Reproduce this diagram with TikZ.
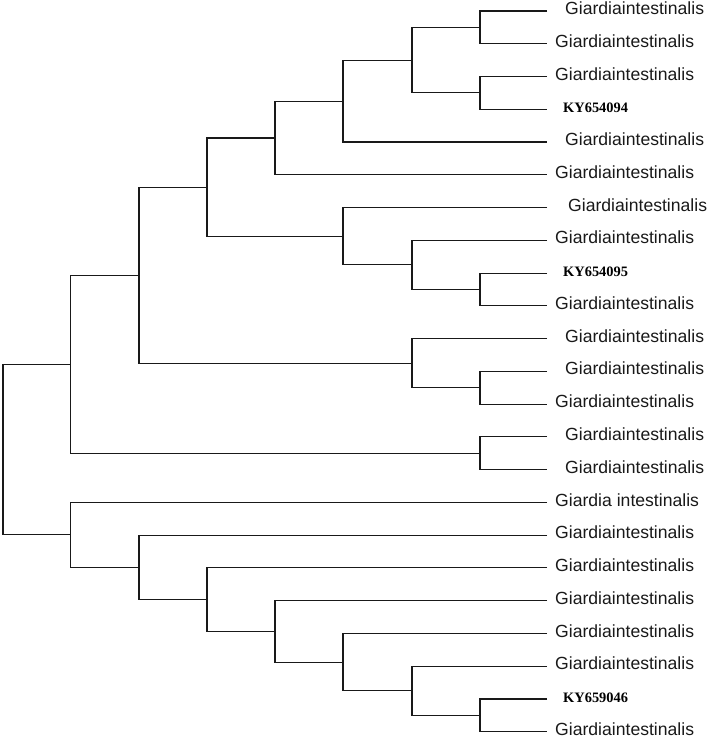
\documentclass[tikz,border=0pt]{standalone}
\usepackage{fontspec}
\setmainfont{Liberation Sans}
\newfontfamily\accfont{Liberation Serif}
\usetikzlibrary{positioning}
\begin{document}
\begin{tikzpicture}[x=1pt, y=-32.76pt]
    \tikzset{
        taxon/.style={inner sep=0pt, text height=0.72em, text depth=0pt, font=\fontsize{17.6}{20}\selectfont, text=black!90},
        accession/.style={inner sep=0pt, text height=0.68em, text depth=0pt, font=\accfont\bfseries\fontsize{14.4}{16}\selectfont},
        branch/.style={draw=black!90, line width=1.1pt}
    }
    \useasboundingbox (0,-0.336) rectangle (708,22.283);
    \coordinate (t1) at (547,0);
    \coordinate (t2) at (547,1);
    \coordinate (t3) at (547,2);
    \coordinate (t4) at (547,3);
    \coordinate (t5) at (547,4);
    \coordinate (t6) at (547,5);
    \coordinate (t7) at (547,6);
    \coordinate (t8) at (547,7);
    \coordinate (t9) at (547,8);
    \coordinate (t10) at (547,9);
    \coordinate (t11) at (547,10);
    \coordinate (t12) at (547,11);
    \coordinate (t13) at (547,12);
    \coordinate (t14) at (547,13);
    \coordinate (t15) at (547,14);
    \coordinate (t16) at (547,15);
    \coordinate (t17) at (547,16);
    \coordinate (t18) at (547,17);
    \coordinate (t19) at (547,18);
    \coordinate (t20) at (547,19);
    \coordinate (t21) at (547,20);
    \coordinate (t22) at (547,21);
    \coordinate (t23) at (547,22);

    \node [taxon, right=18pt of t1] (lab1) {Giardiaintestinalis};
    \node [taxon, right=8pt of t2] (lab2) {Giardiaintestinalis};
    \node [taxon, right=8pt of t3] (lab3) {Giardiaintestinalis};
    \node [accession, right=16pt of t4] (lab4) {KY654094};
    \node [taxon, right=18pt of t5] (lab5) {Giardiaintestinalis};
    \node [taxon, right=8pt of t6] (lab6) {Giardiaintestinalis};
    \node [taxon, right=21pt of t7] (lab7) {Giardiaintestinalis};
    \node [taxon, right=8pt of t8] (lab8) {Giardiaintestinalis};
    \node [accession, right=16pt of t9] (lab9) {KY654095};
    \node [taxon, right=8pt of t10] (lab10) {Giardiaintestinalis};
    \node [taxon, right=18pt of t11] (lab11) {Giardiaintestinalis};
    \node [taxon, right=18pt of t12] (lab12) {Giardiaintestinalis};
    \node [taxon, right=8pt of t13] (lab13) {Giardiaintestinalis};
    \node [taxon, right=18pt of t14] (lab14) {Giardiaintestinalis};
    \node [taxon, right=18pt of t15] (lab15) {Giardiaintestinalis};
    \node [taxon, right=8pt of t16] (lab16) {Giardia intestinalis};
    \node [taxon, right=8pt of t17] (lab17) {Giardiaintestinalis};
    \node [taxon, right=8pt of t18] (lab18) {Giardiaintestinalis};
    \node [taxon, right=8pt of t19] (lab19) {Giardiaintestinalis};
    \node [taxon, right=8pt of t20] (lab20) {Giardiaintestinalis};
    \node [taxon, right=8pt of t21] (lab21) {Giardiaintestinalis};
    \node [accession, right=16pt of t22] (lab22) {KY659046};
    \node [taxon, right=8pt of t23] (lab23) {Giardiaintestinalis};

    \coordinate (c12) at (480,0.5);
    \coordinate (c34) at (480,2.5);
    \coordinate (c14) at (412,1.5);
    \coordinate (c15) at (343,2.75);
    \coordinate (c16) at (275,3.875);
    \coordinate (c910) at (480,8.5);
    \coordinate (c810) at (412,7.75);
    \coordinate (c710) at (343,6.875);
    \coordinate (c110) at (207,5.375);
    \coordinate (c1213) at (480,11.5);
    \coordinate (c1113) at (412,10.75);
    \coordinate (c113) at (139,8.0625);
    \coordinate (c1415) at (480,13.5);
    \coordinate (c115) at (70.5,10.78125);
    \coordinate (c2223) at (480,21.5);
    \coordinate (c2123) at (412,20.75);
    \coordinate (c2023) at (343,19.875);
    \coordinate (c1923) at (275,18.9375);
    \coordinate (c1823) at (207,17.96875);
    \coordinate (c1723) at (139,16.984375);
    \coordinate (c1623) at (70.5,15.9921875);
    \coordinate (root) at (3,13.38671875);

    \draw [branch] (t1) -| (c12) |- (t2);
    \draw [branch] (t3) -| (c34) |- (t4);
    \draw [branch] (c12) -| (c14) |- (c34);
    \draw [branch] (c14) -| (c15) |- (t5);
    \draw [branch] (c15) -| (c16) |- (t6);
    \draw [branch] (t9) -| (c910) |- (t10);
    \draw [branch] (t8) -| (c810) |- (c910);
    \draw [branch] (t7) -| (c710) |- (c810);
    \draw [branch] (c16) -| (c110) |- (c710);
    \draw [branch] (t12) -| (c1213) |- (t13);
    \draw [branch] (t11) -| (c1113) |- (c1213);
    \draw [branch] (c110) -| (c113) |- (c1113);
    \draw [branch] (t14) -| (c1415) |- (t15);
    \draw [branch] (c113) -| (c115) |- (c1415);
    \draw [branch] (t22) -| (c2223) |- (t23);
    \draw [branch] (t21) -| (c2123) |- (c2223);
    \draw [branch] (t20) -| (c2023) |- (c2123);
    \draw [branch] (t19) -| (c1923) |- (c2023);
    \draw [branch] (t18) -| (c1823) |- (c1923);
    \draw [branch] (t17) -| (c1723) |- (c1823);
    \draw [branch] (t16) -| (c1623) |- (c1723);
    \draw [branch] (c115) -| (root) |- (c1623);
\end{tikzpicture}
\end{document}
